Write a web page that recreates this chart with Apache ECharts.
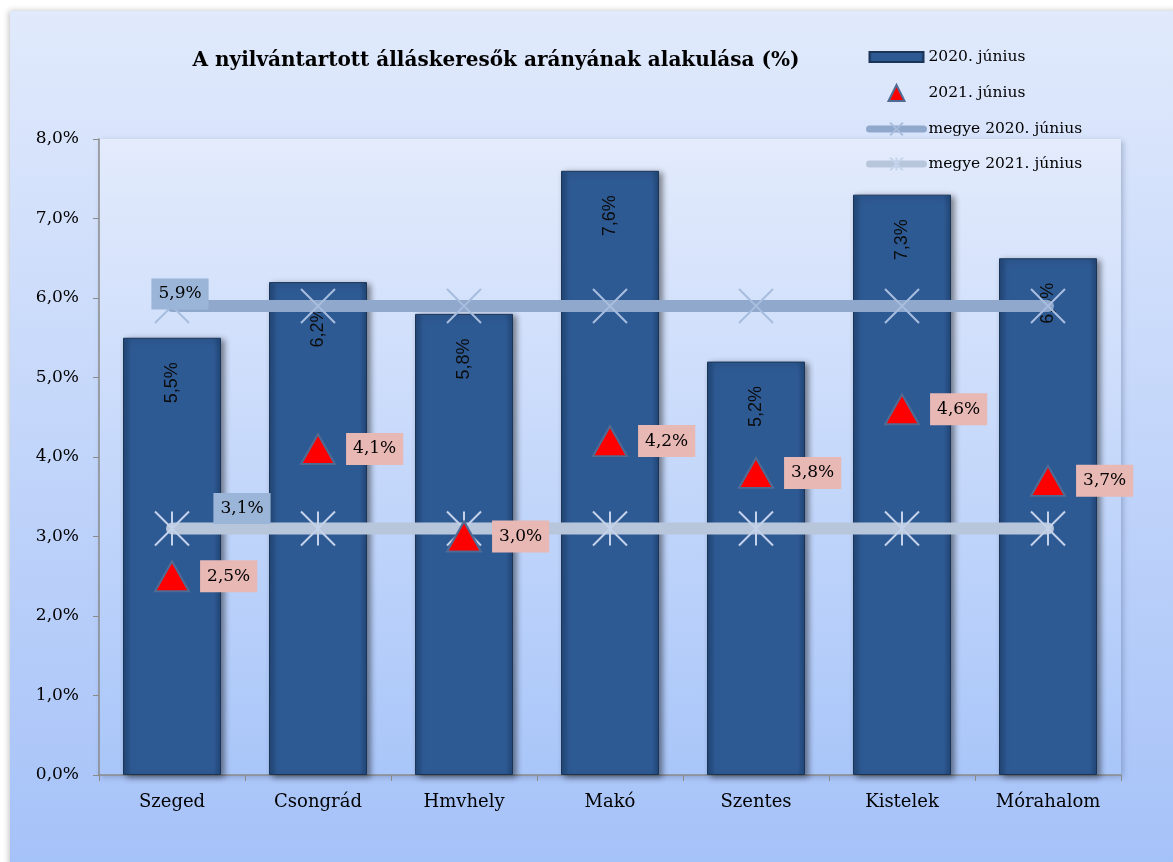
<!DOCTYPE html>
<html><head><meta charset="utf-8">
<script src="https://cdn.jsdelivr.net/npm/echarts@6/dist/echarts.min.js"></script>
<style>html,body{margin:0;padding:0;background:#fff}#c{width:1173px;height:862px}</style>
</head><body><div id="c"></div>
<script>
const categories = ['Szeged','Csongrád','Hmvhely','Makó','Szentes','Kistelek','Mórahalom'];
const values2020 = [5.5, 6.2, 5.8, 7.6, 5.2, 7.3, 6.5];
const values2021 = [2.5, 4.1, 3.0, 4.2, 3.8, 4.6, 3.7];
const megye2020 = [5.9, 5.9, 5.9, 5.9, 5.9, 5.9, 5.9];
const megye2021 = [3.1, 3.1, 3.1, 3.1, 3.1, 3.1, 3.1];
const seriesNames = ['2020. június','2021. június','megye 2020. június','megye 2021. június'];
const titleText = 'A nyilvántartott álláskeresők arányának alakulása (%)';

const serif = '"DejaVu Serif","Liberation Serif",serif';
const fmt = v => v.toFixed(1).replace('.', ',') + '%';
const chart = echarts.init(document.getElementById('c'));
const G = echarts.graphic;

// only the first point of each county line carries a label
function firstLabelled(arr, offset) {
  return arr.map((v, i) => i === 0 ? {
    value: v,
    label: {
      show: true, position: 'inside', offset: offset,
      fontFamily: serif, fontSize: 17, color: '#000',
      backgroundColor: '#9ab5d7', padding: [8, 7, 6, 7],
      formatter: p => fmt(p.value)
    }
  } : v);
}

chart.setOption({
  animation: false,
  backgroundColor: '#ffffff',
  graphic: [{
    type: 'rect', z: -10, silent: true,
    shape: {x: 10, y: 11, width: 1180, height: 870},
    style: {
      fill: new G.LinearGradient(0, 0, 0, 1, [{offset: 0, color: '#e1eafc'}, {offset: 1, color: '#a4c1f8'}]),
      shadowBlur: 6, shadowColor: 'rgba(0,0,0,0.25)', shadowOffsetX: -1
    }
  }],
  title: {
    text: titleText, left: 491, top: 46, textAlign: 'center',
    textStyle: {fontFamily: serif, fontWeight: 'bold', fontSize: 20, color: '#000'}
  },
  legend: {
    orient: 'vertical', left: 861, top: 44, itemGap: 19, itemWidth: 54, itemHeight: 16,
    symbolKeepAspect: true,
    textStyle: {fontFamily: serif, fontSize: 15.5, color: '#000'},
    data: [
      {name: seriesNames[0], icon: 'path://M0,0L54,0L54,10L0,10Z'},
      {name: seriesNames[1], icon: 'path://M6,0L12,12L0,12Z'},
      {name: seriesNames[2], lineStyle: {width: 7}},
      {name: seriesNames[3], lineStyle: {width: 7}}
    ]
  },
  grid: {
    left: 99, right: 52, top: 139, bottom: 87, show: true, borderWidth: 0,
    backgroundColor: new G.LinearGradient(0, 0, 0, 1, [{offset: 0, color: '#e3ebfc'}, {offset: 1, color: '#a9c6f9'}]),
    shadowBlur: 6, shadowColor: 'rgba(60,80,120,0.35)', shadowOffsetX: 2, shadowOffsetY: 2
  },
  xAxis: {
    type: 'category', data: categories,
    axisLine: {lineStyle: {color: '#8a8a8a', width: 1.5}},
    axisTick: {show: true, length: 6, lineStyle: {color: '#8a8a8a'}},
    axisLabel: {fontFamily: serif, fontSize: 18, color: '#000', margin: 18}
  },
  yAxis: {
    type: 'value', min: 0, max: 8, interval: 1,
    splitLine: {show: false},
    axisLine: {show: true, lineStyle: {color: '#8a8a8a', width: 1.5}},
    axisTick: {show: true, length: 6, lineStyle: {color: '#8a8a8a'}},
    axisLabel: {fontFamily: serif, fontSize: 17, color: '#000', margin: 20, formatter: v => fmt(v)}
  },
  series: [
    {
      name: seriesNames[0], type: 'bar', data: values2020, barWidth: 98, z: 2,
      itemStyle: {
        color: new G.LinearGradient(0, 0, 1, 0, [
          {offset: 0, color: '#224777'}, {offset: 0.08, color: '#2e5a94'},
          {offset: 0.92, color: '#2e5a94'}, {offset: 1, color: '#224777'}]),
        borderColor: '#1b3559', borderWidth: 1,
        shadowBlur: 6, shadowColor: 'rgba(0,0,0,0.45)', shadowOffsetX: 3, shadowOffsetY: 2
      },
      label: {
        show: true, position: 'insideTop', rotate: 90, distance: 45,
        align: 'center', verticalAlign: 'middle',
        fontFamily: '"Liberation Sans","Open Sans",sans-serif', fontSize: 18, color: '#0c0c0c',
        formatter: p => fmt(p.value)
      }
    },
    {
      name: seriesNames[2], type: 'line', data: firstLabelled(megye2020, [8, -12]), z: 4,
      symbol: 'path://M0,0L10,10M10,0L0,10', symbolSize: 34,
      lineStyle: {color: '#8fa8cc', width: 12, cap: 'round'},
      itemStyle: {color: 'rgba(0,0,0,0)', borderColor: '#a8bddd', borderWidth: 2}
    },
    {
      name: seriesNames[3], type: 'line', data: firstLabelled(megye2021, [70, -20]), z: 4,
      symbol: 'path://M0,0L10,10M10,0L0,10M5,0L5,10', symbolSize: 34,
      lineStyle: {color: '#b8c6dc', width: 12, cap: 'round'},
      itemStyle: {color: 'rgba(0,0,0,0)', borderColor: '#c5d3ea', borderWidth: 2}
    },
    {
      name: seriesNames[1], type: 'scatter', data: values2021, z: 5,
      symbol: 'triangle', symbolSize: [34, 30],
      itemStyle: {
        color: '#ff0000', opacity: 1,
        borderColor: '#4f6a93', borderWidth: 2
      },
      label: {
        show: true, position: 'right', distance: 10,
        fontFamily: serif, fontSize: 17, color: '#000',
        backgroundColor: '#e8b8b5', padding: [8, 7, 7, 7],
        formatter: p => fmt(p.value)
      }
    }
  ]
});
</script></body></html>
